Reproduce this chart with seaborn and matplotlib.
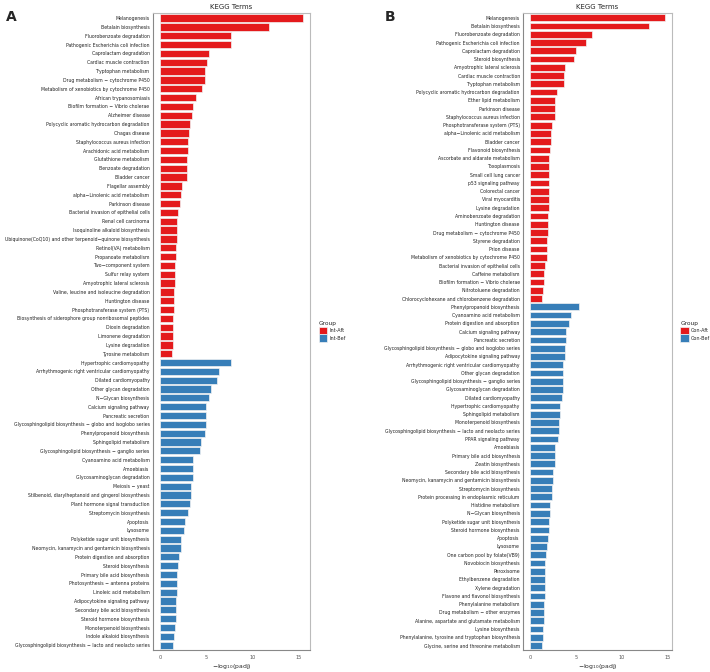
import numpy as np
import pandas as pd
import seaborn as sns
import matplotlib.pyplot as plt

# panel A: Int groups
a_terms_aft = [
    "Melanogenesis", "Betalain biosynthesis", "Fluorobenzoate degradation",
    "Pathogenic Escherichia coli infection", "Caprolactam degradation",
    "Cardiac muscle contraction", "Tryptophan metabolism",
    "Drug metabolism − cytochrome P450", "Metabolism of xenobiotics by cytochrome P450",
    "African trypanosomiasis", "Biofilm formation − Vibrio cholerae", "Alzheimer disease",
    "Polycyclic aromatic hydrocarbon degradation", "Chagas disease",
    "Staphylococcus aureus infection", "Arachidonic acid metabolism",
    "Glutathione metabolism", "Benzoate degradation", "Bladder cancer",
    "Flagellar assembly", "alpha−Linolenic acid metabolism", "Parkinson disease",
    "Bacterial invasion of epithelial cells", "Renal cell carcinoma",
    "Isoquinoline alkaloid biosynthesis",
    "Ubiquinone(CoQ10) and other terpenoid−quinone biosynthesis",
    "Retinol(VA) metabolism", "Propanoate metabolism", "Two−component system",
    "Sulfur relay system", "Amyotrophic lateral sclerosis",
    "Valine, leucine and isoleucine degradation", "Huntington disease",
    "Phosphotransferase system (PTS)",
    "Biosynthesis of siderophore group nonribosomal peptides", "Dioxin degradation",
    "Limonene degradation", "Lysine degradation", "Tyrosine metabolism",
]
a_vals_aft = [
    15.4, 11.7, 7.7, 7.6, 5.3, 5.1, 4.85, 4.8, 4.5, 3.9, 3.5, 3.4, 3.2, 3.15,
    3.0, 3.0, 2.95, 2.85, 2.85, 2.4, 2.2, 2.1, 1.95, 1.85, 1.8, 1.77, 1.73,
    1.7, 1.62, 1.62, 1.6, 1.52, 1.5, 1.45, 1.42, 1.4, 1.4, 1.37, 1.33,
]
a_terms_bef = [
    "Hypertrophic cardiomyopathy", "Arrhythmogenic right ventricular cardiomyopathy",
    "Dilated cardiomyopathy", "Other glycan degradation", "N−Glycan biosynthesis",
    "Calcium signaling pathway", "Pancreatic secretion",
    "Glycosphingolipid biosynthesis − globo and isoglobo series",
    "Phenylpropanoid biosynthesis", "Sphingolipid metabolism",
    "Glycosphingolipid biosynthesis − ganglio series", "Cyanoamino acid metabolism",
    "Amoebiasis", "Glycosaminoglycan degradation", "Meiosis − yeast",
    "Stilbenoid, diarylheptanoid and gingerol biosynthesis",
    "Plant hormone signal transduction", "Streptomycin biosynthesis", "Apoptosis",
    "Lysosome", "Polyketide sugar unit biosynthesis",
    "Neomycin, kanamycin and gentamicin biosynthesis",
    "Protein digestion and absorption", "Steroid biosynthesis",
    "Primary bile acid biosynthesis", "Photosynthesis − antenna proteins",
    "Linoleic acid metabolism", "Adipocytokine signaling pathway",
    "Secondary bile acid biosynthesis", "Steroid hormone biosynthesis",
    "Monoterpenoid biosynthesis", "Indole alkaloid biosynthesis",
    "Glycosphingolipid biosynthesis − lacto and neolacto series",
]
a_vals_bef = [
    7.7, 6.35, 6.1, 5.5, 5.3, 5.0, 5.0, 5.0, 4.85, 4.45, 4.35, 3.6, 3.55, 3.55,
    3.3, 3.3, 3.2, 3.05, 2.7, 2.55, 2.3, 2.27, 2.05, 1.9, 1.85, 1.77, 1.77,
    1.73, 1.73, 1.66, 1.62, 1.45, 1.37,
]

# panel B: Con groups
b_terms_aft = [
    "Melanogenesis", "Betalain biosynthesis", "Fluorobenzoate degradation",
    "Pathogenic Escherichia coli infection", "Caprolactam degradation",
    "Steroid biosynthesis", "Amyotrophic lateral sclerosis",
    "Cardiac muscle contraction", "Tryptophan metabolism",
    "Polycyclic aromatic hydrocarbon degradation", "Ether lipid metabolism",
    "Parkinson disease", "Staphylococcus aureus infection",
    "Phosphotransferase system (PTS)", "alpha−Linolenic acid metabolism",
    "Bladder cancer", "Flavonoid biosynthesis", "Ascorbate and aldarate metabolism",
    "Toxoplasmosis", "Small cell lung cancer", "p53 signaling pathway",
    "Colorectal cancer", "Viral myocarditis", "Lysine degradation",
    "Aminobenzoate degradation", "Huntington disease",
    "Drug metabolism − cytochrome P450", "Styrene degradation", "Prion disease",
    "Metabolism of xenobiotics by cytochrome P450",
    "Bacterial invasion of epithelial cells", "Caffeine metabolism",
    "Biofilm formation − Vibrio cholerae", "Nitrotoluene degradation",
    "Chlorocyclohexane and chlorobenzene degradation",
]
b_vals_aft = [
    14.7, 13.0, 6.8, 6.15, 5.0, 4.8, 3.8, 3.75, 3.67, 2.92, 2.75, 2.75, 2.7,
    2.42, 2.3, 2.25, 2.15, 2.1, 2.07, 2.07, 2.07, 2.07, 2.07, 2.03, 2.0, 1.92,
    1.92, 1.9, 1.9, 1.82, 1.64, 1.53, 1.53, 1.4, 1.35,
]
b_terms_bef = [
    "Phenylpropanoid biosynthesis", "Cyanoamino acid metabolism",
    "Protein digestion and absorption", "Calcium signaling pathway",
    "Pancreatic secretion",
    "Glycosphingolipid biosynthesis − globo and isoglobo series",
    "Adipocytokine signaling pathway",
    "Arrhythmogenic right ventricular cardiomyopathy", "Other glycan degradation",
    "Glycosphingolipid biosynthesis − ganglio series",
    "Glycosaminoglycan degradation", "Dilated cardiomyopathy",
    "Hypertrophic cardiomyopathy", "Sphingolipid metabolism",
    "Monoterpenoid biosynthesis",
    "Glycosphingolipid biosynthesis − lacto and neolacto series",
    "PPAR signaling pathway", "Amoebiasis", "Primary bile acid biosynthesis",
    "Zeatin biosynthesis", "Secondary bile acid biosynthesis",
    "Neomycin, kanamycin and gentamicin biosynthesis", "Streptomycin biosynthesis",
    "Protein processing in endoplasmic reticulum", "Histidine metabolism",
    "N−Glycan biosynthesis", "Polyketide sugar unit biosynthesis",
    "Steroid hormone biosynthesis", "Apoptosis", "Lysosome",
    "One carbon pool by folate(VB9)", "Novobiocin biosynthesis", "Peroxisome",
    "Ethylbenzene degradation", "Xylene degradation",
    "Flavone and flavonol biosynthesis", "Phenylalanine metabolism",
    "Drug metabolism − other enzymes", "Alanine, aspartate and glutamate metabolism",
    "Lysine biosynthesis", "Phenylalanine, tyrosine and tryptophan biosynthesis",
    "Glycine, serine and threonine metabolism",
]
b_vals_bef = [
    5.35, 4.45, 4.2, 3.92, 3.92, 3.8, 3.78, 3.6, 3.6, 3.6, 3.56, 3.5, 3.3,
    3.28, 3.17, 3.17, 3.06, 2.75, 2.75, 2.7, 2.5, 2.5, 2.4, 2.35, 2.14, 2.14,
    2.1, 2.1, 1.92, 1.9, 1.75, 1.68, 1.64, 1.64, 1.64, 1.6, 1.57, 1.5, 1.5,
    1.43, 1.39, 1.35,
]

colors = ["#E41A1C", "#377EB8"]


def make_df(t_aft, v_aft, t_bef, v_bef, g_aft, g_bef):
    d = pd.DataFrame({
        "term": t_aft + t_bef,
        "val": v_aft + v_bef,
        "Group": [g_aft] * len(t_aft) + [g_bef] * len(t_bef),
    })
    d["row"] = [f"{i:03d}" for i in range(len(d))]
    return d


def draw(ax, d, groups, letter, letter_x):
    sns.barplot(data=d, y="row", x="val", hue="Group", hue_order=groups,
                palette=colors, saturation=1, dodge=False, orient="h", width=0.82,
                edgecolor="#f2f2f2", linewidth=0.5, ax=ax)
    ax.set_yticks(range(len(d)))
    ax.set_yticklabels(d["term"], fontsize=3.3)
    xmax = d["val"].max()
    ax.set_xlim(-0.05 * xmax, 1.05 * xmax)
    ax.set_ylim(len(d) - 0.4, -0.6)
    ax.set_xticks([0, 5, 10, 15])
    ax.tick_params(axis="x", labelsize=3.6, colors="#555555", length=1.5,
                   width=0.4, pad=1.5)
    ax.tick_params(axis="y", length=1.5, width=0.4, colors="#555555", pad=1)
    for lab in ax.get_yticklabels():
        lab.set_color("#222222")
    ax.set_ylabel("")
    ax.set_xlabel("−log$_{10}$(padj)", fontsize=4.4, labelpad=1.5)
    ax.set_title("KEGG Terms", fontsize=5, pad=3)
    for s in ax.spines.values():
        s.set_visible(True)
        s.set_color("#bbbbbb")
        s.set_linewidth(0.8)
    ax.spines["left"].set_color("#888888")
    ax.spines["bottom"].set_color("#888888")
    leg = ax.legend(title="Group", loc="center left", bbox_to_anchor=(1.03, 0.5),
                    frameon=False, fontsize=3.5, title_fontsize=4.2,
                    handlelength=1.7, handleheight=2.0, labelspacing=0.05,
                    handletextpad=0.5)
    leg._legend_box.align = "left"
    ax.figure.text(letter_x, 0.985, letter, fontsize=10, fontweight="bold",
                   va="top", ha="left")


df_a = make_df(a_terms_aft, a_vals_aft, a_terms_bef, a_vals_bef, "Int-Aft", "Int-Bef")
df_b = make_df(b_terms_aft, b_vals_aft, b_terms_bef, b_vals_bef, "Con-Aft", "Con-Bef")

sns.set_style("white")
fig = plt.figure(figsize=(7.1, 6.72), dpi=100)
ax1 = fig.add_axes([0.2155, 0.032, 0.221, 0.949])
ax2 = fig.add_axes([0.737, 0.032, 0.209, 0.949])

draw(ax1, df_a, ["Int-Aft", "Int-Bef"], "A", 0.008)
draw(ax2, df_b, ["Con-Aft", "Con-Bef"], "B", 0.542)

fig.savefig("out.png", dpi=100)
